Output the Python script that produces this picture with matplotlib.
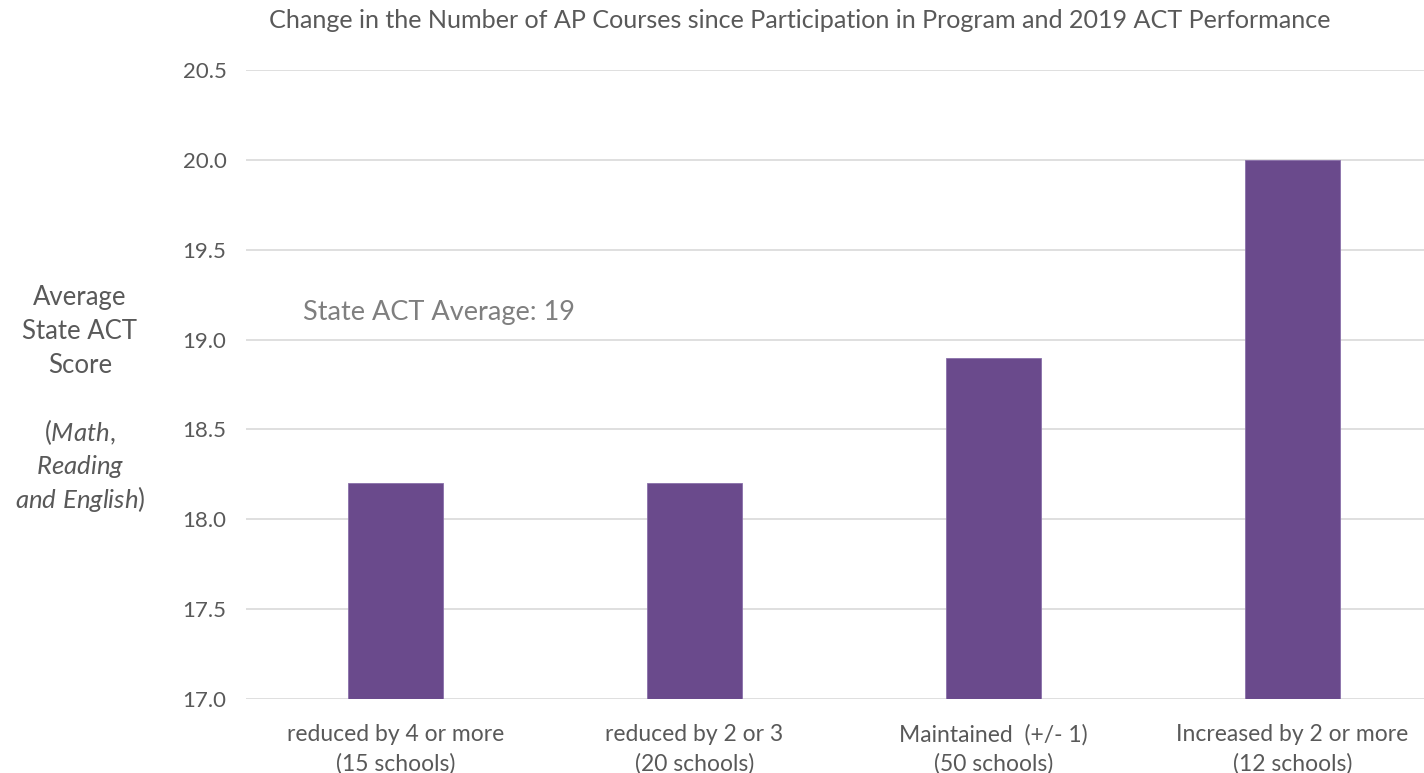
import matplotlib
matplotlib.use("Agg")
import matplotlib.pyplot as plt

categories = ["reduced by 4 or more\n(15 schools)",
              "reduced by 2 or 3\n(20 schools)",
              "Maintained  (+/- 1)\n(50 schools)",
              "Increased by 2 or more\n(12 schools)"]
values = [18.2, 18.2, 18.9, 20.0]
yticks = [17.0, 17.5, 18.0, 18.5, 19.0, 19.5, 20.0, 20.5]
title = "Change in the Number of AP Courses since Participation in Program and 2019 ACT Performance"
annotation = "State ACT Average: 19"

plt.rcParams['font.family'] = ['Lato', 'DejaVu Sans']
plt.rcParams['mathtext.fontset'] = 'custom'
plt.rcParams['mathtext.rm'] = 'Lato'
plt.rcParams['mathtext.it'] = 'Lato:italic'

grey = '#595959'
W, H = 1424, 773
fig = plt.figure(figsize=(W / 100, H / 100), dpi=100)
ax = fig.add_axes([246 / W, (H - 699) / H, 1 - 246 / W, (699 - 70) / H])

x = list(range(len(values)))
ax.bar(x, [v - 17.0 for v in values], bottom=17.0, width=0.32,
       color='#6a4a8c', edgecolor='#8a70aa', linewidth=0.6, zorder=3)

ax.set_xlim(-0.5, 3.44)
ax.set_ylim(17.0, 20.5)
ax.set_yticks(yticks)
ax.set_yticklabels([f"{t:.1f}" for t in yticks])
ax.set_xticks(x)
ax.set_xticklabels(categories, linespacing=1.45)
ax.tick_params(axis='y', length=0, pad=14, labelsize=16, labelcolor=grey)
ax.tick_params(axis='x', length=0, pad=18, labelsize=16.5, labelcolor=grey)
ax.grid(axis='y', color='#d9d9d9', linewidth=1.2, zorder=0)
for s in ax.spines.values():
    s.set_visible(False)

ax.text(-0.31, 19.15, annotation, fontsize=19.5, color='#7f7f7f', va='center', ha='left')

fig.text(800 / W, 1 - 21 / H, title, fontsize=18.1, color=grey, ha='center', va='center')

ylines = [("Average", 298), ("State ACT", 332), ("Score", 365),
          (r"($\mathit{Math,}$", 432), (r"$\mathit{Reading}$", 466),
          (r"$\mathit{and\ English}$)", 499)]
for txt, yy in ylines:
    fig.text(80 / W, 1 - yy / H, txt, fontsize=18.5, color=grey, ha='center', va='center')

fig.savefig("out.png", dpi=100)
